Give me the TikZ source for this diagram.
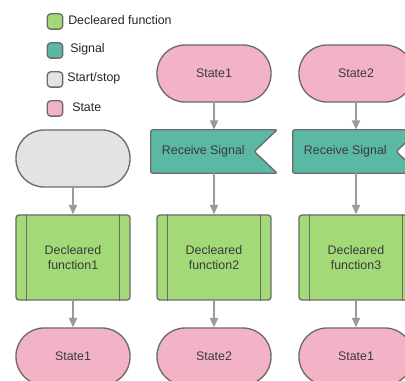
\documentclass[tikz,border=0pt]{standalone}
\usepackage{fontspec}
\setmainfont{Liberation Sans}
\usetikzlibrary{calc,arrows.meta,backgrounds}
\definecolor{fnGreen}{HTML}{A3D977}
\definecolor{sigTeal}{HTML}{5BB8A4}
\definecolor{startGray}{HTML}{E3E3E3}
\definecolor{statePink}{HTML}{F3B3C6}
\definecolor{edgeGray}{HTML}{6B6B6B}
\definecolor{flowGray}{HTML}{9A9A9A}
\definecolor{labelGray}{HTML}{3A3A3A}
\begin{document}
\begin{tikzpicture}[x=0.75pt,y=-0.75pt,
  every node/.style={font=\fontsize{9.3}{11.25}\selectfont, text=labelGray},
  outline/.style={draw=edgeGray, line width=1pt},
  stadium/.style={outline, rectangle, rounded corners=21pt,
    minimum width=85.5pt, minimum height=42.75pt, inner sep=0pt},
  startbox/.style={stadium, fill=startGray},
  statebox/.style={stadium, fill=statePink},
  fnbox/.style={outline, fill=fnGreen, rectangle, rounded corners=2.2pt,
    minimum width=85.5pt, minimum height=63.75pt, inner sep=0pt, align=center},
  sigbox/.style={rectangle, minimum width=94.5pt, minimum height=32.25pt, inner sep=0pt},
  key/.style={outline, rectangle, rounded corners=2.5pt, minimum size=11.5pt, inner sep=0pt},
  keytext/.style={anchor=west, inner sep=0pt, text=black!85},
  flow/.style={draw=flowGray, line width=1.1pt, -{Triangle[length=7pt,width=6pt]}},
  bar/.style={draw=edgeGray, line width=1pt}
]
\useasboundingbox (0,0) rectangle (405,381);
\clip (0,0) rectangle (405,381);

% legend
\node[key, fill=fnGreen]    (kFn)    at (55,21.5) {};
\node[key, fill=sigTeal]    (kSig)   at (55,50.5) {};
\node[key, fill=startGray]  (kStart) at (55,79.5) {};
\node[key, fill=statePink]  (kState) at (55,108.5) {};
\node[keytext] (tFn)    at (68,20.5)  {Decleared function};
\node[keytext] (tSig)   at (70,49.5)  {Signal};
\node[keytext] (tStart) at (67,78.5)  {Start/stop};
\node[keytext] (tState) at (72,107.5) {State};

% first column
\node[startbox] (start) at (73,158.5) {};
\node[fnbox]    (fnA)   at (73,257.5) {Decleared\\function1};
\node[statebox] (endA)  at (73,356.5) {State1};

% second column
\node[statebox] (stA)  at (214,73.5)  {State1};
\node[sigbox]   (sigA) at (214,151.5) {Receive Signal\kern16pt};
\node[fnbox]    (fnB)  at (214,257.5) {Decleared\\function2};
\node[statebox] (endB) at (214,356.5) {State2};

% third column
\node[statebox] (stB)  at (356,73.5)  {State2};
\node[sigbox]   (sigB) at (356,151.5) {Receive Signal\kern16pt};
\node[fnbox]    (fnC)  at (356,257.5) {Decleared\\function3};
\node[statebox] (endC) at (356,356.5) {State1};

% page fill and signal outlines (notch on the right), behind the labels
\begin{scope}[on background layer]
  \clip (0,0) rectangle (405,381);
  \fill[white] (0,0) rectangle (405,381);
  \foreach \s in {sigA,sigB}{
    \draw[outline, fill=sigTeal, rounded corners=1.5pt]
      (\s.north west) -- (\s.north east) -- ($(\s.east)+(-23,0)$)
      -- (\s.south east) -- (\s.south west) -- cycle;
  }
\end{scope}

% side bars of the predefined-process boxes
\foreach \f in {fnA,fnB,fnC}{
  \draw[bar] ($(\f.north west)+(11,0)$) -- ($(\f.south west)+(11,0)$);
  \draw[bar] ($(\f.north east)+(-11,0)$) -- ($(\f.south east)+(-11,0)$);
}

% flow
\draw[flow] (start) -- (fnA);
\draw[flow] (fnA) -- (endA);
\draw[flow] (stA) -- (sigA);
\draw[flow] (sigA) -- (fnB);
\draw[flow] (fnB) -- (endB);
\draw[flow] (stB) -- (sigB);
\draw[flow] (sigB) -- (fnC);
\draw[flow] (fnC) -- (endC);
\end{tikzpicture}
\end{document}
